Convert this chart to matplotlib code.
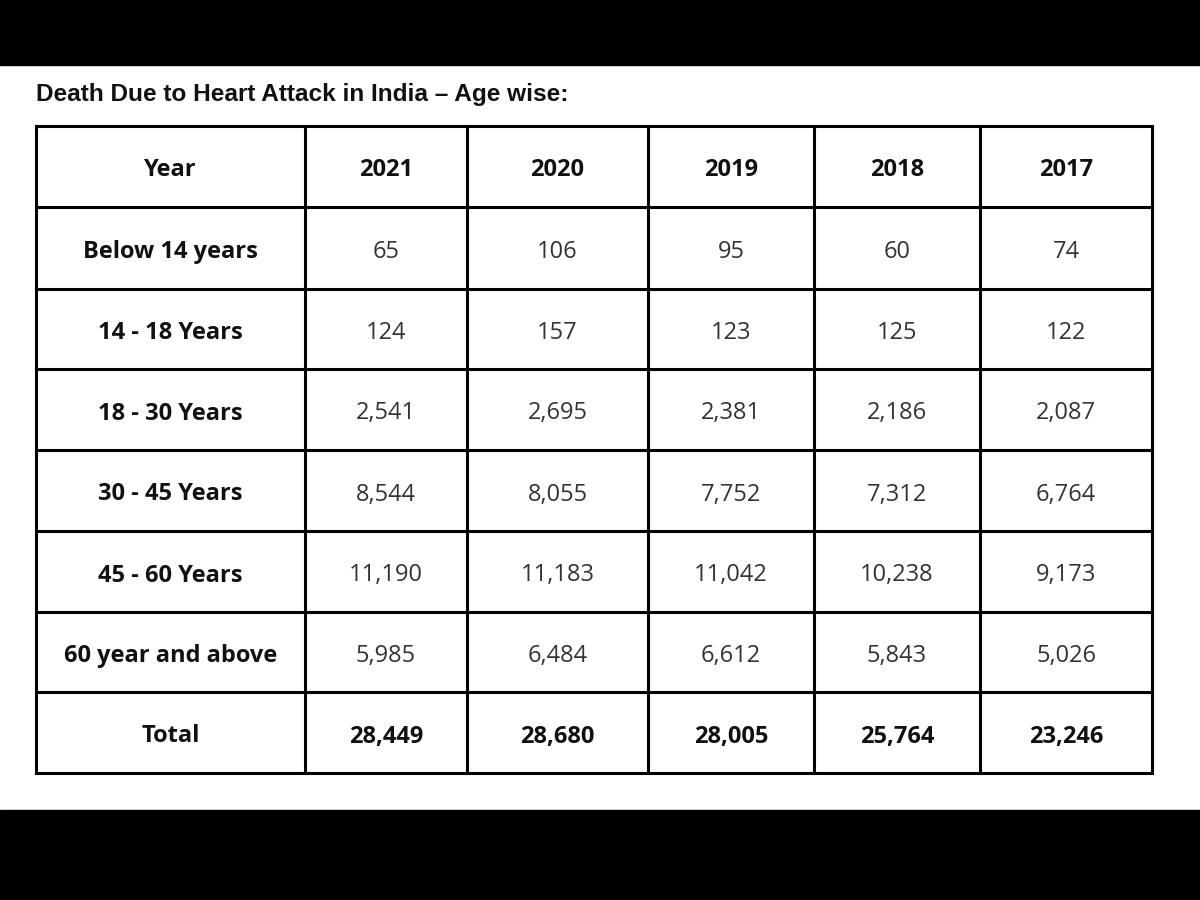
import matplotlib
matplotlib.use("Agg")
from matplotlib import pyplot as plt
from matplotlib.patches import Rectangle

title = "Death Due to Heart Attack in India \u2013 Age wise:"
years = ["2021", "2020", "2019", "2018", "2017"]
groups = ["Below 14 years", "14 - 18 Years", "18 - 30 Years", "30 - 45 Years",
          "45 - 60 Years", "60 year and above"]
below14 = [65, 106, 95, 60, 74]
y14_18 = [124, 157, 123, 125, 122]
y18_30 = [2541, 2695, 2381, 2186, 2087]
y30_45 = [8544, 8055, 7752, 7312, 6764]
y45_60 = [11190, 11183, 11042, 10238, 9173]
above60 = [5985, 6484, 6612, 5843, 5026]
totals = [28449, 28680, 28005, 25764, 23246]

rows = [below14, y14_18, y18_30, y30_45, y45_60, above60]

# grid in pixel coords
col_x = [36, 305, 467, 648, 814, 980, 1152]
row_y = [126, 207, 289, 369, 450, 531, 612, 692, 773]

fig = plt.figure(figsize=(12, 9), dpi=100)
ax = fig.add_axes([0, 0, 1, 1])
ax.set_xlim(0, 1200)
ax.set_ylim(900, 0)
ax.axis('off')

# black bands
ax.add_patch(Rectangle((0, 0), 1200, 65, color='black'))
ax.add_patch(Rectangle((0, 810), 1200, 90, color='black'))

ax.text(36, 92, title, fontsize=17.6, fontweight='bold', family='Liberation Sans',
        ha='left', va='center_baseline', color='#111111')

lw = 2.2
for x in col_x:
	ax.plot([x, x], [row_y[0], row_y[-1]], color='black', lw=lw, solid_capstyle='projecting')
for y in row_y:
	ax.plot([col_x[0], col_x[-1]], [y, y], color='black', lw=lw, solid_capstyle='projecting')

fnt = 'Open Sans'
fs = 17
def cx(i):
	return (col_x[i] + col_x[i+1]) / 2
def cy(j):
	return (row_y[j] + row_y[j+1]) / 2 + 1

def cell(i, j, s, bold):
	ax.text(cx(i), cy(j), s, fontsize=fs, fontweight='bold' if bold else 'normal', family=fnt,
	        ha='center', va='center_baseline', color='#111111' if bold else '#333333')

cell(0, 0, "Year", True)
for i, yr in enumerate(years):
	cell(i+1, 0, yr, True)

for j, (g, vals) in enumerate(zip(groups, rows)):
	cell(0, j+1, g, True)
	for i, v in enumerate(vals):
		cell(i+1, j+1, f"{v:,}", False)

cell(0, 7, "Total", True)
for i, v in enumerate(totals):
	cell(i+1, 7, f"{v:,}", True)

fig.savefig('out.png', dpi=100)
